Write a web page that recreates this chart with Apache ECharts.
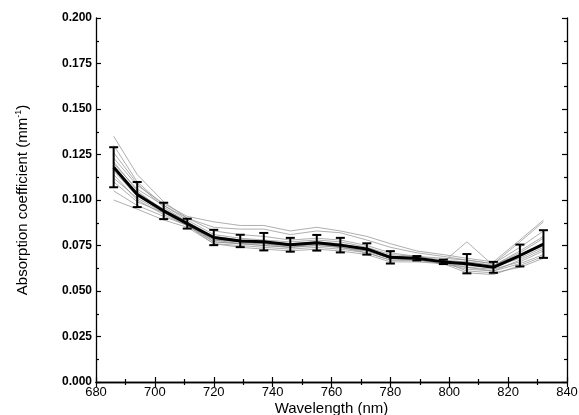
<!doctype html>
<html lang="en">
<head>
    <meta charset="UTF-8">
    <title>Absorption coefficient</title>
    <script src="https://cdn.jsdelivr.net/npm/echarts@6/dist/echarts.min.js"></script>
    <style>
        html, body { margin: 0; padding: 0; background: #fff; }
        #main { width: 579px; height: 415px; }
    </style>
</head>
<body>
<div id="main"></div>
<script type="text/javascript">
    // wavelengths (nm)
    var wavelengths = [686, 694, 703, 711, 720, 729, 737, 746, 755, 763, 772, 780, 789, 798, 806, 815, 824, 832];
    // mean curve and standard deviation
    var meanValues = [0.118, 0.103, 0.094, 0.087, 0.0794, 0.0775, 0.0771, 0.0754, 0.0765, 0.0752, 0.0731, 0.0685, 0.068, 0.066, 0.065, 0.063, 0.0695, 0.0758];
    var errValues = [0.011, 0.0069, 0.0045, 0.0027, 0.0042, 0.0034, 0.0048, 0.0038, 0.0043, 0.004, 0.0031, 0.0034, 0.0012, 0.0012, 0.0053, 0.003, 0.006, 0.0076];
    // individual samples (thin grey)
    var samples = [
        [0.135, 0.114, 0.099, 0.090, 0.083, 0.081, 0.080, 0.078, 0.079, 0.078, 0.075, 0.071, 0.069, 0.068, 0.067, 0.065, 0.074, 0.083],
        [0.130, 0.110, 0.097, 0.089, 0.081, 0.079, 0.078, 0.077, 0.078, 0.077, 0.074, 0.070, 0.069, 0.067, 0.066, 0.064, 0.072, 0.080],
        [0.123, 0.108, 0.098, 0.091, 0.088, 0.086, 0.086, 0.083, 0.085, 0.083, 0.080, 0.076, 0.072, 0.070, 0.068, 0.066, 0.078, 0.089],
        [0.120, 0.106, 0.097, 0.090, 0.085, 0.084, 0.084, 0.081, 0.083, 0.082, 0.078, 0.074, 0.071, 0.069, 0.067, 0.065, 0.077, 0.088],
        [0.118, 0.104, 0.095, 0.088, 0.080, 0.078, 0.077, 0.076, 0.077, 0.076, 0.073, 0.069, 0.068, 0.066, 0.077, 0.064, 0.070, 0.076],
        [0.116, 0.102, 0.094, 0.087, 0.078, 0.077, 0.076, 0.075, 0.076, 0.075, 0.072, 0.068, 0.068, 0.066, 0.064, 0.063, 0.068, 0.074],
        [0.114, 0.100, 0.092, 0.086, 0.077, 0.076, 0.075, 0.074, 0.075, 0.074, 0.071, 0.067, 0.067, 0.065, 0.063, 0.062, 0.066, 0.072],
        [0.105, 0.097, 0.091, 0.086, 0.076, 0.075, 0.074, 0.073, 0.074, 0.073, 0.071, 0.067, 0.067, 0.065, 0.062, 0.061, 0.065, 0.070],
        [0.100, 0.095, 0.089, 0.085, 0.076, 0.074, 0.073, 0.072, 0.073, 0.072, 0.070, 0.066, 0.066, 0.065, 0.060, 0.059, 0.064, 0.069],
        [0.110, 0.099, 0.093, 0.086, 0.078, 0.076, 0.075, 0.074, 0.076, 0.074, 0.072, 0.068, 0.067, 0.066, 0.061, 0.060, 0.063, 0.068],
        [0.126, 0.109, 0.096, 0.088, 0.079, 0.077, 0.076, 0.075, 0.076, 0.075, 0.073, 0.069, 0.068, 0.066, 0.066, 0.064, 0.071, 0.079],
        [0.121, 0.105, 0.094, 0.087, 0.079, 0.077, 0.077, 0.075, 0.077, 0.075, 0.073, 0.068, 0.068, 0.066, 0.065, 0.063, 0.069, 0.075],
        [0.112, 0.101, 0.093, 0.087, 0.077, 0.076, 0.076, 0.074, 0.075, 0.074, 0.072, 0.068, 0.067, 0.066, 0.063, 0.061, 0.067, 0.073]
    ];

    var myChart = echarts.init(document.getElementById('main'));

    var series = [];
    for (var i = 0; i < samples.length; i++) {
        var pts = [];
        for (var j = 0; j < wavelengths.length; j++) {
            pts.push([wavelengths[j], samples[i][j]]);
        }
        series.push({
            type: 'line',
            data: pts,
            symbol: 'none',
            silent: true,
            lineStyle: {color: '#8c8c8c', width: 0.7}
        });
    }

    var meanPts = [], errPts = [];
    for (var k = 0; k < wavelengths.length; k++) {
        meanPts.push([wavelengths[k], meanValues[k]]);
        errPts.push([wavelengths[k], meanValues[k] - errValues[k], meanValues[k] + errValues[k]]);
    }

    series.push({
        type: 'line',
        data: meanPts,
        symbol: 'none',
        z: 5,
        lineStyle: {color: '#000', width: 3}
    });

    // error bars with caps
    series.push({
        type: 'custom',
        data: errPts,
        z: 6,
        renderItem: function (params, api) {
            var lo = api.coord([api.value(0), api.value(1)]);
            var hi = api.coord([api.value(0), api.value(2)]);
            var w = 4.5;
            var st = {stroke: '#000', lineWidth: 2};
            return {
                type: 'group',
                children: [
                    {type: 'line', shape: {x1: lo[0], y1: lo[1], x2: hi[0], y2: hi[1]}, style: st},
                    {type: 'line', shape: {x1: lo[0] - w, y1: lo[1], x2: lo[0] + w, y2: lo[1]}, style: st},
                    {type: 'line', shape: {x1: hi[0] - w, y1: hi[1], x2: hi[0] + w, y2: hi[1]}, style: st}
                ]
            };
        }
    });

    var tickStyle = {show: true, inside: true, length: 5, lineStyle: {color: '#000', width: 1.2}};
    var minorStyle = {show: true, splitNumber: 2, length: 3, lineStyle: {color: '#000', width: 1.2}};
    var lineStyle = {show: true, lineStyle: {color: '#000', width: 1.3}};

    myChart.setOption({
        backgroundColor: '#fff',
        animation: false,
        grid: {left: 96, right: 12, top: 18, bottom: 33, outerBoundsMode: 'none'},
        xAxis: [{
            type: 'value',
            min: 680, max: 840, interval: 20,
            name: 'Wavelength (nm)',
            nameLocation: 'middle',
            nameGap: 19,
            nameMoveOverlap: false,
            nameTextStyle: {fontFamily: 'Liberation Sans', fontSize: 15, color: '#000'},
            axisLine: lineStyle,
            axisTick: tickStyle,
            minorTick: minorStyle,
            splitLine: {show: false},
            axisLabel: {fontFamily: 'Liberation Sans', fontSize: 13, color: '#000', margin: 4}
        }, {
            type: 'value',
            position: 'top',
            min: 680, max: 840, interval: 20,
            axisLine: lineStyle,
            axisTick: tickStyle,
            minorTick: minorStyle,
            splitLine: {show: false},
            axisLabel: {show: false}
        }],
        yAxis: [{
            type: 'value',
            min: 0, max: 0.2, interval: 0.025,
            name: 'Absorption coefficient (mm{s|-1})',
            nameLocation: 'middle',
            nameGap: 64,
            nameMoveOverlap: false,
            nameTextStyle: {
                fontFamily: 'Liberation Sans', fontSize: 15, color: '#000',
                rich: {s: {fontFamily: 'Liberation Sans', fontSize: 9, color: '#000', verticalAlign: 'top', padding: [0, 0, 9, 0]}}
            },
            axisLine: lineStyle,
            axisTick: tickStyle,
            minorTick: minorStyle,
            splitLine: {show: false},
            axisLabel: {
                fontFamily: 'Liberation Sans', fontSize: 12, fontWeight: 'bold', color: '#000', margin: 4,
                formatter: function (v) { return v.toFixed(3); }
            }
        }, {
            type: 'value',
            position: 'right',
            min: 0, max: 0.2, interval: 0.025,
            axisLine: lineStyle,
            axisTick: tickStyle,
            minorTick: minorStyle,
            splitLine: {show: false},
            axisLabel: {show: false}
        }],
        series: series
    });
</script>
</body>
</html>
